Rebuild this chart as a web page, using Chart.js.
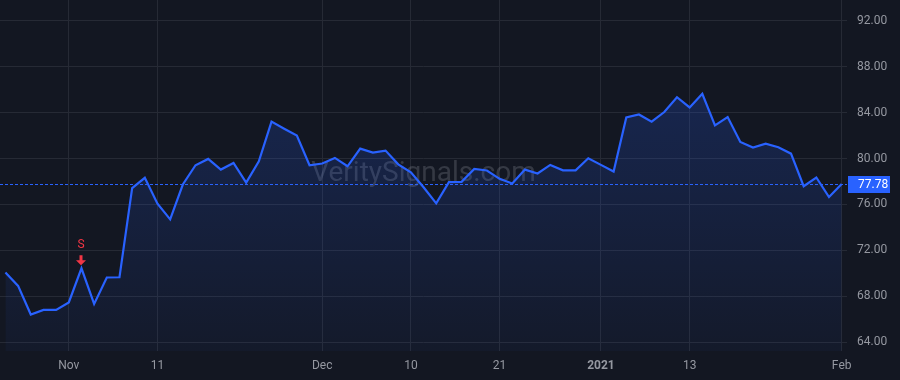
<!DOCTYPE html>
<html>
<head>
<meta charset="utf-8">
<script src="https://cdn.jsdelivr.net/npm/chart.js@4/dist/chart.umd.min.js"></script>
<style>
  html, body { margin: 0; padding: 0; background: #131722; }
  #wrap { width: 900px; height: 380px; }
</style>
</head>
<body>
<div id="wrap"><canvas id="myChart" width="900" height="380"></canvas></div>
<script>
// trading days shown on the chart
const dates = [
  '2020-10-26','2020-10-27','2020-10-28','2020-10-29','2020-10-30',
  '2020-11-02','2020-11-03','2020-11-04','2020-11-05','2020-11-06','2020-11-09','2020-11-10','2020-11-11','2020-11-12','2020-11-13',
  '2020-11-16','2020-11-17','2020-11-18','2020-11-19','2020-11-20','2020-11-23','2020-11-24','2020-11-25','2020-11-27','2020-11-30',
  '2020-12-01','2020-12-02','2020-12-03','2020-12-04','2020-12-07','2020-12-08','2020-12-09','2020-12-10','2020-12-11',
  '2020-12-14','2020-12-15','2020-12-16','2020-12-17','2020-12-18','2020-12-21','2020-12-22','2020-12-23','2020-12-24',
  '2020-12-28','2020-12-29','2020-12-30','2020-12-31',
  '2021-01-04','2021-01-05','2021-01-06','2021-01-07','2021-01-08','2021-01-11','2021-01-12','2021-01-13','2021-01-14','2021-01-15',
  '2021-01-19','2021-01-20','2021-01-21','2021-01-22','2021-01-25','2021-01-26','2021-01-27','2021-01-28','2021-01-29',
  '2021-02-01'
];

// closing prices
const prices = [
  70.06, 68.90, 66.40, 66.80, 66.80,
  67.45, 70.43, 67.33, 69.63, 69.65, 77.42, 78.32, 76.06, 74.70, 77.74,
  79.42, 79.97, 79.04, 79.62, 77.91, 79.77, 83.22, 82.60, 82.00, 79.42,
  79.57, 80.06, 79.33, 80.87, 80.52, 80.70, 79.50, 78.80, 77.50,
  76.10, 77.94, 77.97, 79.10, 78.96, 78.23, 77.83, 79.04, 78.70,
  79.45, 78.98, 78.98, 80.03,
  79.45, 78.87, 83.59, 83.85, 83.22, 84.06, 85.35, 84.46, 85.65, 82.90,
  83.62, 81.45, 80.96, 81.30, 80.99, 80.43, 77.59, 78.35, 76.64,
  77.78
];

// x axis labels
const tickDates = ['2020-11-02','2020-11-11','2020-12-01','2020-12-10','2020-12-21','2021-01-04','2021-01-13','2021-02-01'];
const tickLabels = ['Nov','11','Dec','10','21','2021','13','Feb'];
const boldLabels = ['2021'];

// y axis labels
const yTicks = [64, 68, 72, 76, 80, 84, 88, 92];

const lastPrice = 77.78;
const watermark = 'VeritySignals.com';

// sell signals
const signalDates = ['2020-11-03'];
const signalText = ['S'];

const FONT = 'Roboto, "Liberation Sans", Arial, sans-serif';
const BLUE = '#2962ff';
const RED = '#f23645';
const TEXT = '#9598a1';
const GRID = '#262a35';

// gambar background, watermark, garis harga terakhir dan sinyal
const overlay = {
  id: 'overlay',
  beforeDraw(chart) {
    const c = chart.ctx;
    c.save();
    c.fillStyle = '#131722';
    c.fillRect(0, 0, chart.width, chart.height);
    c.restore();
  },
  beforeDatasetsDraw(chart) {
    const c = chart.ctx;
    const a = chart.chartArea;
    const y = chart.scales.y;
    c.save();
    // watermark
    c.font = '28px ' + FONT;
    c.fillStyle = 'rgba(178,181,190,0.22)';
    c.textAlign = 'center';
    c.textBaseline = 'middle';
    c.fillText(watermark, (a.left + a.right) / 2, (a.top + a.bottom) / 2 - 2);
    // dashed last price line
    const py = Math.round(y.getPixelForValue(lastPrice)) + 0.5;
    c.strokeStyle = BLUE;
    c.lineWidth = 1;
    c.setLineDash([3, 2]);
    c.beginPath();
    c.moveTo(a.left, py);
    c.lineTo(a.right, py);
    c.stroke();
    c.restore();
  },
  afterDatasetsDraw(chart) {
    const c = chart.ctx;
    const x = chart.scales.x;
    const y = chart.scales.y;
    c.save();
    signalDates.forEach((d, i) => {
      const idx = dates.indexOf(d);
      const px = Math.round(x.getPixelForValue(idx));
      const py = y.getPixelForValue(prices[idx]);
      const tip = py - 3;
      c.fillStyle = RED;
      c.beginPath();
      c.moveTo(px - 1.5, tip - 10);
      c.lineTo(px + 1.5, tip - 10);
      c.lineTo(px + 1.5, tip - 5);
      c.lineTo(px + 5, tip - 5);
      c.lineTo(px, tip);
      c.lineTo(px - 5, tip - 5);
      c.lineTo(px - 1.5, tip - 5);
      c.closePath();
      c.fill();
      c.font = '12px ' + FONT;
      c.textAlign = 'center';
      c.textBaseline = 'middle';
      c.fillText(signalText[i], px, tip - 20);
    });
    c.restore();
  },
  afterDraw(chart) {
    const c = chart.ctx;
    const a = chart.chartArea;
    const y = chart.scales.y;
    const py = y.getPixelForValue(lastPrice);
    c.save();
    c.fillStyle = BLUE;
    c.fillRect(a.right + 1, Math.round(py) - 8, 42, 17);
    c.fillStyle = '#ffffff';
    c.font = '12px ' + FONT;
    c.textAlign = 'left';
    c.textBaseline = 'middle';
    c.fillText(lastPrice.toFixed(2), a.right + 11, Math.round(py) + 0.5);
    c.restore();
  }
};

document.addEventListener('DOMContentLoaded', () => {
  const ctx = document.getElementById('myChart').getContext('2d');

  const myChart = new Chart(ctx, {
    type: 'line',
    data: {
      datasets: [{
        data: prices.map((v, i) => ({ x: i, y: v })),
        borderColor: BLUE,
        borderWidth: 2.2,
        pointRadius: 0,
        tension: 0,
        fill: 'start',
        backgroundColor: (context) => {
          const area = context.chart.chartArea;
          if (!area) return 'rgba(41,98,255,0.15)';
          const g = context.chart.ctx.createLinearGradient(0, area.top, 0, area.bottom);
          g.addColorStop(0, 'rgba(41,98,255,0.26)');
          g.addColorStop(1, 'rgba(41,98,255,0.04)');
          return g;
        }
      }]
    },
    options: {
      responsive: false,
      animation: false,
      devicePixelRatio: 1,
      layout: { padding: 0 },
      plugins: {
        legend: { display: false },
        tooltip: { enabled: false }
      },
      scales: {
        x: {
          type: 'linear',
          min: -0.43,
          max: 66.42,
          border: { display: false },
          grid: { color: GRID, drawTicks: false },
          afterBuildTicks: (scale) => {
            scale.ticks = tickDates.map(d => ({ value: dates.indexOf(d) }));
          },
          afterFit: (scale) => {
            scale.height = 29;
            scale.paddingLeft = 0;
            scale.paddingRight = 0;
          },
          ticks: {
            autoSkip: false,
            maxRotation: 0,
            padding: 8,
            color: TEXT,
            font: (c) => ({
              family: FONT,
              size: 12,
              weight: (c.tick && boldLabels.includes(tickLabels[tickDates.indexOf(dates[c.tick.value])])) ? 'bold' : 'normal'
            }),
            callback: (value) => tickLabels[tickDates.indexOf(dates[value])]
          }
        },
        y: {
          position: 'right',
          min: 63.22,
          max: 93.83,
          border: { display: false },
          grid: { color: GRID, drawTicks: false },
          afterBuildTicks: (scale) => {
            scale.ticks = yTicks.map(v => ({ value: v }));
          },
          afterFit: (scale) => {
            scale.width = 53;
            scale.paddingTop = 0;
            scale.paddingBottom = 0;
          },
          ticks: {
            padding: 10,
            color: TEXT,
            font: { family: FONT, size: 12 },
            callback: (value) => value.toFixed(2)
          }
        }
      }
    },
    plugins: [overlay]
  });
});
</script>
</body>
</html>
